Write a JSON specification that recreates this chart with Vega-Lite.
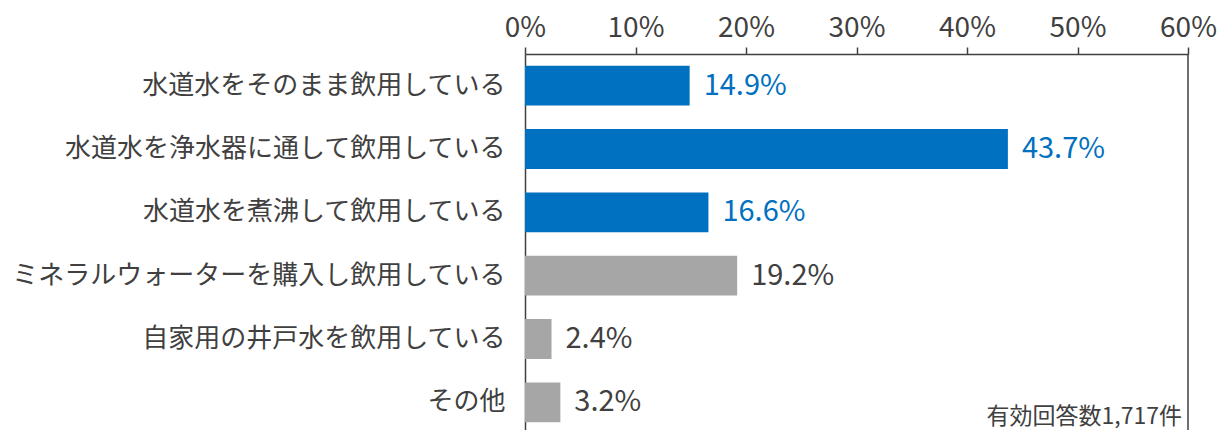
{
  "$schema": "https://vega.github.io/schema/vega-lite/v6.json",
  "autosize": "none",
  "width": 663,
  "height": 380,
  "padding": {"left": 525, "top": 54, "right": 43, "bottom": 0},
  "background": "white",
  "config": {
    "view": {"stroke": null},
    "font": "Noto Sans CJK JP"
  },
  "data": {
    "values": [
      {"category": "水道水をそのまま飲用している", "value": 14.9, "label": "14.9%", "group": "水道水"},
      {"category": "水道水を浄水器に通して飲用している", "value": 43.7, "label": "43.7%", "group": "水道水"},
      {"category": "水道水を煮沸して飲用している", "value": 16.6, "label": "16.6%", "group": "水道水"},
      {"category": "ミネラルウォーターを購入し飲用している", "value": 19.2, "label": "19.2%", "group": "その他"},
      {"category": "自家用の井戸水を飲用している", "value": 2.4, "label": "2.4%", "group": "その他"},
      {"category": "その他", "value": 3.2, "label": "3.2%", "group": "その他"}
    ]
  },
  "layer": [
    {
      "mark": {"type": "bar"},
      "encoding": {
        "y": {
          "field": "category",
          "type": "nominal",
          "sort": null,
          "scale": {
            "domain": ["水道水をそのまま飲用している", "水道水を浄水器に通して飲用している", "水道水を煮沸して飲用している", "ミネラルウォーターを購入し飲用している", "自家用の井戸水を飲用している", "その他"],
            "paddingInner": 0.37,
            "paddingOuter": 0.185
          },
          "axis": {
            "title": null,
            "ticks": false,
            "labelFontSize": 26,
            "labelFontWeight": "normal",
            "labelColor": "#404040",
            "labelPadding": 20,
            "labelLimit": 600,
            "domainColor": "#404040",
            "domainWidth": 1.5
          }
        },
        "x": {
          "field": "value",
          "type": "quantitative",
          "scale": {"domain": [0, 60], "nice": false},
          "axis": {
            "orient": "top",
            "title": null,
            "values": [0, 10, 20, 30, 40, 50, 60],
            "labelExpr": "datum.value + '%'",
            "labelFlush": false,
            "grid": false,
            "labelFontSize": 28,
            "labelFontWeight": "normal",
            "labelColor": "#404040",
            "labelPadding": 5,
            "tickSize": 7,
            "tickColor": "#404040",
            "tickWidth": 1.5,
            "domainColor": "#404040",
            "domainWidth": 1.5
          }
        },
        "color": {
          "field": "group",
          "type": "nominal",
          "scale": {"domain": ["水道水", "その他"], "range": ["#0070C0", "#A6A6A6"]},
          "legend": null
        }
      }
    },
    {
      "mark": {"type": "text", "align": "left", "baseline": "middle", "dx": 14, "fontSize": 29},
      "encoding": {
        "y": {"field": "category", "type": "nominal", "sort": null},
        "x": {"field": "value", "type": "quantitative"},
        "text": {"field": "label"},
        "color": {
          "field": "group",
          "type": "nominal",
          "scale": {"domain": ["水道水", "その他"], "range": ["#0070C0", "#404040"]},
          "legend": null
        }
      }
    },
    {
      "data": {"values": [{"edge": 60, "note": "有効回答数1,717件", "row": "その他"}]},
      "mark": {"type": "rule", "color": "#404040", "strokeWidth": 1.5},
      "encoding": {"x": {"field": "edge", "type": "quantitative"}}
    },
    {
      "data": {"values": [{"edge": 60, "note": "有効回答数1,717件", "row": "その他"}]},
      "mark": {"type": "text", "align": "right", "baseline": "alphabetic", "dx": -6, "dy": 22, "fontSize": 23, "fontWeight": "normal", "color": "#404040"},
      "encoding": {
        "x": {"field": "edge", "type": "quantitative"},
        "y": {"field": "row", "type": "nominal", "sort": null},
        "text": {"field": "note"}
      }
    }
  ],
  "resolve": {"scale": {"color": "independent"}}
}
